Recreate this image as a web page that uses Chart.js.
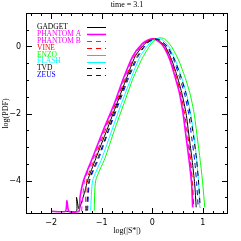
<!DOCTYPE html>
<html>
<head>
<meta charset="utf-8">
<script src="https://cdn.jsdelivr.net/npm/chart.js@4.4.0/dist/chart.umd.min.js"></script>
<style>
  html, body { margin: 0; padding: 0; background: #fff; }
  #wrap { width: 241px; height: 241px; }
</style>
</head>
<body>
<div id="wrap"><canvas id="pdfChart" width="241" height="241"></canvas></div>
<script>
// series labels / colours / dashes
const names = ["GADGET", "PHANTOM A", "PHANTOM B", "VINE", "ENZO", "FLASH", "TVD", "ZEUS"];
const colors = ["#000000", "#ff00ff", "#ff00ff", "#ff0000", "#00ff00", "#00ffff", "#000000", "#0000ff"];
const dashed = [false, false, true, true, false, false, true, true];

// log(|S*|), log(PDF) pairs
const gadget = [[-1.72,-4.92],[-1.5,-4.92],[-1.5,-4.5],[-1.45,-4.85],[-1.33,-4.3],[-1.28,-4.0],[-1.12,-3.35],[-0.9,-2.5],[-0.7,-1.7],[-0.51,-0.95],[-0.34,-0.3],[-0.15,0.08],[0.0,0.22],[0.1,0.2],[0.25,0.02],[0.39,-0.42],[0.5,-0.92],[0.59,-1.42],[0.67,-2.0],[0.73,-2.7],[0.79,-3.4],[0.84,-4.1],[0.87,-4.8]];
const phantomA = [[-2.0,-4.92],[-1.72,-4.92],[-1.69,-4.6],[-1.65,-4.92],[-1.45,-4.92],[-1.43,-4.5],[-1.36,-4.0],[-1.19,-3.35],[-0.97,-2.5],[-0.75,-1.7],[-0.57,-0.95],[-0.39,-0.3],[-0.2,0.08],[-0.05,0.22],[0.05,0.22],[0.2,0.05],[0.35,-0.4],[0.45,-0.9],[0.54,-1.4],[0.61,-2.0],[0.67,-2.7],[0.73,-3.4],[0.78,-4.1],[0.8,-4.8]];
const phantomB = [[-1.4,-4.92],[-1.34,-4.0],[-1.17,-3.35],[-0.95,-2.5],[-0.73,-1.7],[-0.55,-0.95],[-0.37,-0.3],[-0.18,0.08],[-0.03,0.22],[0.07,0.2],[0.22,0.03],[0.37,-0.42],[0.47,-0.92],[0.56,-1.42],[0.63,-2.0],[0.69,-2.7],[0.75,-3.4],[0.79,-4.1],[0.81,-4.8]];
const vine = [[-1.32,-4.9],[-1.3,-4.0],[-1.14,-3.35],[-0.93,-2.5],[-0.72,-1.7],[-0.53,-0.95],[-0.35,-0.3],[-0.16,0.08],[-0.02,0.22],[0.08,0.21],[0.23,0.03],[0.38,-0.42],[0.48,-0.92],[0.57,-1.42],[0.64,-2.0],[0.71,-2.7],[0.76,-3.4],[0.8,-4.1],[0.82,-4.8]];
const enzo = [[-1.15,-4.9],[-1.12,-4.0],[-0.94,-3.35],[-0.75,-2.5],[-0.56,-1.7],[-0.38,-0.95],[-0.18,-0.3],[0.0,0.12],[0.14,0.26],[0.24,0.23],[0.38,0.0],[0.52,-0.4],[0.65,-0.92],[0.75,-1.42],[0.83,-2.0],[0.89,-2.7],[0.95,-3.4],[1.0,-4.1],[1.04,-4.8]];
const flash = [[-1.22,-4.9],[-1.18,-4.0],[-1.0,-3.35],[-0.8,-2.5],[-0.61,-1.7],[-0.42,-0.95],[-0.24,-0.3],[-0.04,0.12],[0.1,0.24],[0.2,0.2],[0.33,0.0],[0.46,-0.42],[0.58,-0.92],[0.68,-1.42],[0.76,-2.0],[0.83,-2.7],[0.88,-3.4],[0.92,-4.1],[0.94,-4.8]];
const tvd = [[-1.3,-4.9],[-1.25,-4.0],[-1.08,-3.35],[-0.87,-2.5],[-0.68,-1.7],[-0.49,-0.95],[-0.3,-0.3],[-0.11,0.1],[0.04,0.22],[0.14,0.2],[0.3,0.0],[0.45,-0.42],[0.57,-0.92],[0.67,-1.42],[0.75,-2.0],[0.82,-2.7],[0.88,-3.4],[0.92,-4.1],[0.95,-4.8]];
const zeus = [[-1.28,-4.9],[-1.24,-4.0],[-1.06,-3.35],[-0.86,-2.5],[-0.66,-1.7],[-0.47,-0.95],[-0.28,-0.3],[-0.1,0.1],[0.04,0.22],[0.14,0.2],[0.29,0.0],[0.43,-0.42],[0.54,-0.92],[0.64,-1.42],[0.72,-2.0],[0.78,-2.7],[0.84,-3.4],[0.88,-4.1],[0.91,-4.8]];
const series = [gadget, phantomA, phantomB, vine, enzo, flash, tvd, zeus];

const xTicks = [-2, -1, 0, 1];
const yTicks = [0, -2, -4];

const datasets = series.map((pts, i) => ({
  label: names[i],
  data: pts.map(p => ({ x: p[0], y: p[1] })),
  borderColor: colors[i],
  borderWidth: i === 1 ? 1.6 : 1,
  borderDash: dashed[i] ? [5, 4] : [],
  showLine: true,
  pointRadius: 0,
  tension: 0.2,
  order: -i
}));

const serif = "'Liberation Serif', 'DejaVu Serif', serif";
const sans = "'DejaVu Sans', sans-serif";

// box, inward ticks, title, axis titles, legend
const frame = {
  id: "frame",
  afterDraw(chart) {
    const ctx = chart.ctx;
    const a = chart.chartArea;
    const xs = chart.scales.x, ys = chart.scales.y;
    ctx.save();
    ctx.strokeStyle = "#000";
    ctx.lineWidth = 1;
    ctx.strokeRect(a.left + 0.5, a.top + 0.5, a.right - a.left - 1, a.bottom - a.top - 1);
    ctx.beginPath();
    for (let v = -2.4; v <= 1.41; v += 0.2) {
      const px = Math.round(xs.getPixelForValue(v)) + 0.5;
      const major = Math.abs(v - Math.round(v)) < 1e-6;
      const len = major ? 6 : 3;
      ctx.moveTo(px, a.bottom); ctx.lineTo(px, a.bottom - len);
      ctx.moveTo(px, a.top); ctx.lineTo(px, a.top + len);
    }
    for (let v = -4.5; v <= 0.51; v += 0.5) {
      const py = Math.round(ys.getPixelForValue(v)) + 0.5;
      const major = Math.abs(v / 2 - Math.round(v / 2)) < 1e-6;
      const len = major ? 6 : 3;
      ctx.moveTo(a.left, py); ctx.lineTo(a.left + len, py);
      ctx.moveTo(a.right, py); ctx.lineTo(a.right - len, py);
    }
    ctx.stroke();

    ctx.fillStyle = "#000";
    ctx.textAlign = "center";
    ctx.textBaseline = "middle";
    ctx.font = "8px " + serif;
    ctx.fillText("time = 3.1", (a.left + a.right) / 2, 5);
    ctx.fillText("log(|S*|)", (a.left + a.right) / 2, 231);
    ctx.save();
    ctx.translate(6, (a.top + a.bottom) / 2);
    ctx.rotate(-Math.PI / 2);
    ctx.fillText("log(PDF)", 0, 0);
    ctx.restore();

    ctx.textAlign = "left";
    ctx.font = "7.5px " + serif;
    names.forEach((n, i) => {
      const y = 27 + i * 6.9;
      ctx.fillStyle = colors[i];
      ctx.fillText(n, 37, y);
      ctx.strokeStyle = colors[i];
      ctx.lineWidth = i === 1 ? 1.6 : 1;
      ctx.setLineDash(dashed[i] ? [5, 4] : []);
      ctx.beginPath();
      ctx.moveTo(87, Math.round(y) + 0.5);
      ctx.lineTo(106, Math.round(y) + 0.5);
      ctx.stroke();
    });
    ctx.restore();
  }
};

new Chart(document.getElementById("pdfChart").getContext("2d"), {
  type: "scatter",
  data: { datasets },
  options: {
    responsive: false,
    animation: false,
    layout: { padding: { top: 13, right: 13, left: 0, bottom: 0 } },
    plugins: { legend: { display: false }, tooltip: { enabled: false } },
    scales: {
      x: {
        type: "linear",
        min: -2.5, max: 1.5,
        grid: { display: false, drawTicks: false },
        border: { display: false },
        afterBuildTicks: s => { s.ticks = xTicks.map(v => ({ value: v })); },
        ticks: { color: "#000", font: { size: 8, family: sans }, padding: 4, maxRotation: 0,
                 callback: v => (v < 0 ? "\u2212" + Math.abs(v) : String(v)) },
        afterFit: s => { s.height = 27; }
      },
      y: {
        type: "linear",
        min: -5, max: 1,
        grid: { display: false, drawTicks: false },
        border: { display: false },
        afterBuildTicks: s => { s.ticks = yTicks.map(v => ({ value: v })); },
        ticks: { color: "#000", font: { size: 8, family: sans }, padding: 5,
                 callback: v => (v < 0 ? "\u2212" + Math.abs(v) : String(v)) },
        afterFit: s => { s.width = 26; }
      }
    }
  },
  plugins: [frame]
});
</script>
</body>
</html>
